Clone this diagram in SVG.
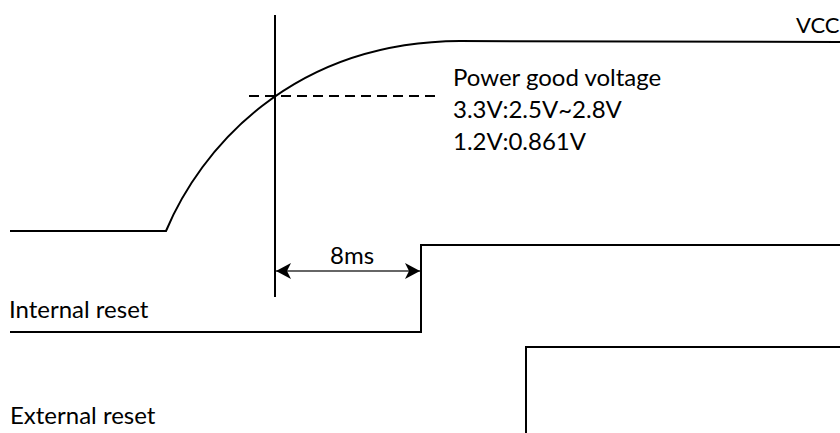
<svg xmlns="http://www.w3.org/2000/svg" width="840" height="433" viewBox="0 0 840 433">
<style>
.w{fill:none;stroke:#000;stroke-width:2}
.t{font-family:Lato,"Liberation Sans",sans-serif;font-size:24px;fill:#000}
</style>
<defs>
<marker id="ah" viewBox="0 0 15 16" refX="15" refY="8" markerWidth="15" markerHeight="16" markerUnits="userSpaceOnUse" orient="auto-start-reverse">
<path d="M0,0 L15,8 L0,16 L4,8 z" fill="#000"/>
</marker>
</defs>
<rect width="840" height="433" fill="#fff"/>
<g id="connectors">
<path id="vcc-wave" class="w" d="M10,231 L166,231 C200,150 290,42 460,41 L840,42"/>
<line id="marker-line" class="w" x1="275" y1="15" x2="275" y2="297"/>
<line id="pg-dash" class="w" x1="249" y1="96" x2="436" y2="96" stroke-dasharray="10,6"/>
<path id="internal-wave" class="w" d="M10,332 L421,332 L421,245 L840,245"/>
<path id="external-wave" class="w" d="M526,433 L526,347 L840,347"/>
<line id="delay-arrow" x1="276" y1="271" x2="420" y2="271" stroke="#333" stroke-width="1.5" marker-start="url(#ah)" marker-end="url(#ah)"/>
</g>
<g id="vcc-label"><text class="t" x="796" y="33" style="font-size:22px">VCC</text></g>
<g id="pg-label">
<text class="t" x="453" y="86">Power good voltage</text>
<text class="t" x="453" y="118">3.3V:2.5V~2.8V</text>
<text class="t" x="453" y="150">1.2V:0.861V</text>
</g>
<g id="delay-label"><text class="t" x="352" y="264" text-anchor="middle">8ms</text></g>
<g id="internal-label"><text class="t" x="9" y="318">Internal reset</text></g>
<g id="external-label"><text class="t" x="10" y="424">External reset</text></g>
</svg>
